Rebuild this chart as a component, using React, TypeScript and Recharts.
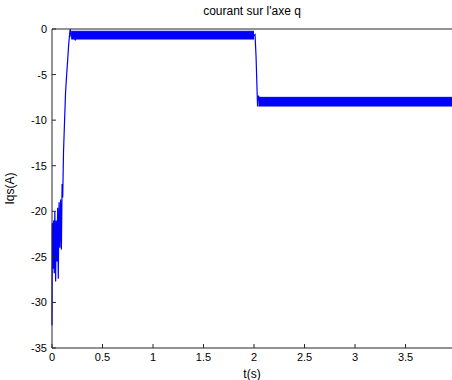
import React from "react";
import { ComposedChart, Line, Area, XAxis, YAxis, Label } from "recharts";

// transient trace (t in s, Iqs in A)
const traceT = [
  0, 0.003, 0.01, 0.016, 0.022, 0.028, 0.036, 0.042, 0.05, 0.056, 0.062, 0.07,
  0.078, 0.085, 0.093, 0.1, 0.106, 0.114, 0.124, 0.134, 0.144, 0.154, 0.164,
  0.174, 0.18, 0.19, 0.2, 0.23, 0.25, 2.0, 2.01, 2.02, 2.035, 2.045, 2.06, 3.96,
];
const traceI = [
  -32.5, -21.3, -26.3, -21, -26.8, -20, -27.7, -21, -25.5, -19.6, -27.4, -19,
  -24, -18.7, -24.2, -17, -18.5, -13.5, -10.2, -7, -5.2, -3.6, -1.9,
  -0.6, 0, -0.9, -0.5, -1.2, -0.7, -0.7, -0.6, -3, -8.5, -7.3, -8.2, -8,
];

// ripple bands (min / max of the oscillation)
const band1T = [0.19, 2.0];
const band1Lo = [-1.1, -1.1];
const band1Hi = [-0.25, -0.25];
const band2T = [2.045, 3.96];
const band2Lo = [-8.45, -8.45];
const band2Hi = [-7.5, -7.5];

const xTicks = [0, 0.5, 1, 1.5, 2, 2.5, 3, 3.5];
const yTicks = [0, -5, -10, -15, -20, -25, -30, -35];

const traceData = traceT.map((t, i) => ({ t, iq: traceI[i] }));
const band1Data = band1T.map((t, i) => ({ t, range: [band1Lo[i], band1Hi[i]] }));
const band2Data = band2T.map((t, i) => ({ t, range: [band2Lo[i], band2Hi[i]] }));

const BLUE = "#0000ff";
const AXIS = "#262626";
const FONT = "'Liberation Sans', Arial, sans-serif";

const BottomTick = (props: any) => {
  const { x, y, payload } = props;
  return (
    <g>
      <line x1={x} y1={y} x2={x} y2={y - 4} stroke={AXIS} />
      <text x={x} y={y + 13} textAnchor="middle" fontSize={11} fill="#000" fontFamily={FONT}>
        {payload.value}
      </text>
    </g>
  );
};

const TopTick = (props: any) => {
  const { x, y } = props;
  return <line x1={x} y1={y} x2={x} y2={y + 4} stroke={AXIS} />;
};

const LeftTick = (props: any) => {
  const { x, y, payload } = props;
  return (
    <g>
      <line x1={x} y1={y} x2={x + 4} y2={y} stroke={AXIS} />
      <text x={x - 5} y={y + 4} textAnchor="end" fontSize={11} fill="#000" fontFamily={FONT}>
        {payload.value}
      </text>
    </g>
  );
};

export default function App() {
  return (
    <div style={{ width: 452, height: 380, background: "#fff", position: "relative" }}>
      <style>{"body{margin:0}"}</style>
      <div
        style={{
          position: "absolute",
          left: 52,
          width: 400,
          top: 4,
          textAlign: "center",
          fontSize: 12,
          fontFamily: FONT,
          color: "#000",
        }}
      >
        courant sur l'axe q
      </div>
      <ComposedChart
        width={452}
        height={380}
        margin={{ top: 28, right: 0, bottom: 0, left: 0 }}
      >
        <XAxis
          xAxisId="b"
          dataKey="t"
          type="number"
          domain={[0, 3.96]}
          ticks={xTicks}
          tick={<BottomTick />}
          tickSize={0}
          tickMargin={0}
          height={32}
          stroke={AXIS}
          allowDuplicatedCategory={false}
        >
          <Label
            content={(p: any) => (
              <text
                x={p.viewBox.x + p.viewBox.width / 2}
                y={p.viewBox.y + 30}
                textAnchor="middle"
                fontSize={12}
                fontFamily={FONT}
                fill="#000"
              >
                t(s)
              </text>
            )}
          />
        </XAxis>
        <XAxis
          xAxisId="top"
          orientation="top"
          dataKey="t"
          type="number"
          domain={[0, 3.96]}
          ticks={xTicks}
          tick={<TopTick />}
          tickSize={0}
          tickMargin={0}
          height={1}
          stroke={AXIS}
          allowDuplicatedCategory={false}
        />
        <YAxis
          type="number"
          domain={[-35, 0]}
          ticks={yTicks}
          tick={<LeftTick />}
          tickSize={0}
          tickMargin={0}
          width={52}
          stroke={AXIS}
          allowDataOverflow
        >
          <Label
            content={(p: any) => {
              const cx = p.viewBox.x + 14;
              const cy = p.viewBox.y + p.viewBox.height / 2;
              return (
                <text
                  x={cx}
                  y={cy}
                  transform={`rotate(-90 ${cx} ${cy})`}
                  textAnchor="middle"
                  fontSize={12}
                  fontFamily={FONT}
                  fill="#000"
                >
                  Iqs(A)
                </text>
              );
            }}
          />
        </YAxis>
        <Area
          xAxisId="b"
          data={band1Data}
          dataKey="range"
          type="linear"
          fill={BLUE}
          fillOpacity={1}
          stroke={BLUE}
          isAnimationActive={false}
        />
        <Area
          xAxisId="b"
          data={band2Data}
          dataKey="range"
          type="linear"
          fill={BLUE}
          fillOpacity={1}
          stroke={BLUE}
          isAnimationActive={false}
        />
        <Line
          xAxisId="b"
          data={traceData}
          dataKey="iq"
          type="linear"
          stroke={BLUE}
          strokeWidth={1.2}
          dot={false}
          isAnimationActive={false}
        />
      </ComposedChart>
    </div>
  );
}
